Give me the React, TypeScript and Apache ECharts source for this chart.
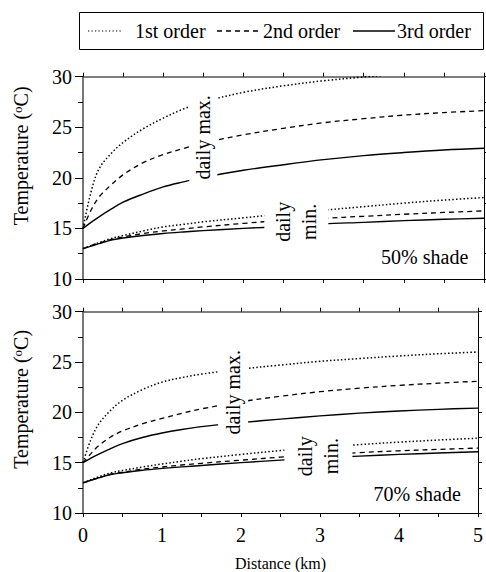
import React, { useEffect, useRef } from "react";
import * as echarts from "echarts";

// Distance (km) sample positions
const X = [0, 0.1, 0.2, 0.35, 0.5, 0.75, 1, 1.25, 1.5, 2, 2.5, 3, 3.5, 4, 4.5, 5];
const X_TICKS = [0, 1, 2, 3, 4, 5];
const Y_TICKS = [10, 15, 20, 25, 30];

// 50% shade — daily max
const max1_50 = [15, 18.6, 20.9, 22.4, 23.5, 24.85, 25.9, 26.8, 27.5, 28.45, 29.1, 29.6, 29.97, 30.3, 30.6, 30.9];
const max2_50 = [15, 16.8, 18.1, 19.3, 20.3, 21.5, 22.3, 22.9, 23.45, 24.25, 24.9, 25.45, 25.85, 26.2, 26.45, 26.65];
const max3_50 = [15, 15.6, 16.15, 16.9, 17.6, 18.4, 19.1, 19.6, 20.05, 20.75, 21.3, 21.8, 22.2, 22.5, 22.75, 22.92];
// 50% shade — daily min
const min1_50 = [13, 13.3, 13.6, 14.0, 14.3, 14.75, 15.15, 15.4, 15.65, 16.05, 16.45, 16.8, 17.15, 17.5, 17.8, 18.05];
const min2_50 = [13, 13.3, 13.55, 13.9, 14.15, 14.5, 14.75, 14.95, 15.15, 15.5, 15.8, 16.0, 16.2, 16.4, 16.58, 16.73];
const min3_50 = [13, 13.25, 13.5, 13.85, 14.05, 14.3, 14.5, 14.65, 14.78, 15.0, 15.2, 15.45, 15.6, 15.77, 15.9, 16.0];

// 70% shade — daily max
const max1_70 = [15, 17.3, 18.85, 20.2, 21.2, 22.25, 23.0, 23.45, 23.8, 24.3, 24.7, 25.07, 25.35, 25.6, 25.82, 26.0];
const max2_70 = [15, 15.9, 16.7, 17.55, 18.15, 18.85, 19.4, 19.9, 20.35, 21.05, 21.6, 22.05, 22.4, 22.68, 22.9, 23.09];
const max3_70 = [15, 15.45, 15.85, 16.4, 16.9, 17.5, 17.95, 18.3, 18.58, 18.98, 19.33, 19.65, 19.92, 20.13, 20.3, 20.42];
// 70% shade — daily min
const min1_70 = [13, 13.3, 13.6, 13.98, 14.22, 14.57, 14.87, 15.15, 15.4, 15.82, 16.2, 16.52, 16.8, 17.04, 17.25, 17.43];
const min2_70 = [13, 13.25, 13.5, 13.85, 14.05, 14.35, 14.57, 14.77, 14.94, 15.25, 15.55, 15.8, 16.0, 16.18, 16.32, 16.45];
const min3_70 = [13, 13.25, 13.5, 13.82, 14.0, 14.25, 14.43, 14.58, 14.72, 15.0, 15.25, 15.46, 15.65, 15.82, 15.96, 16.09];

const ORDERS = ["1st order", "2nd order", "3rd order"];
const PANELS = ["50% shade", "70% shade"];

const FONT = "Liberation Serif";
const FS = 20;
const LINE_TYPES: any[] = [[1.5, 2.2], [5, 4], "solid"];
const LINE_WIDTHS = [1.5, 1.3, 1.4];

function pairs(ys: number[]) {
  return X.map((x, i) => [x, ys[i]]);
}

function labelPoint(coord: number[], text: string, extra: any = {}) {
  return {
    coord,
    symbol: "circle",
    symbolSize: 1,
    itemStyle: { color: "rgba(0,0,0,0)" },
    label: {
      show: true,
      position: "inside",
      formatter: text,
      fontFamily: FONT,
      fontSize: FS,
      color: "#000",
      ...extra,
    },
  };
}

export default function App() {
  const ref = useRef<HTMLDivElement>(null);

  useEffect(() => {
    if (!ref.current) return;
    const chart = echarts.init(ref.current, undefined, { renderer: "svg" });

    const grids = [
      { left: 83, right: 2, top: 76.7, height: 202.3 },
      { left: 83, right: 2, top: 311.7, height: 202.6 },
    ];

    const xAxes: any[] = [];
    const yAxes: any[] = [];
    [0, 1].forEach((g) => {
      const common = {
        type: "value",
        gridIndex: g,
        min: X_TICKS[0],
        max: X_TICKS[X_TICKS.length - 1],
        interval: 0.5,
        splitLine: { show: false },
        axisTick: { show: true, length: 4, lineStyle: { color: "#000", width: 1 } },
      };
      xAxes.push({
        ...common,
        position: "bottom",
        axisLine: { show: true, onZero: false, lineStyle: { color: "#000", width: 1 } },
        axisLabel: {
          show: g === 1,
          margin: 12,
          fontFamily: FONT,
          fontSize: FS,
          color: "#000",
          formatter: (v: number) => (X_TICKS.includes(v) ? String(v) : ""),
        },
        name: g === 1 ? "Distance (km)" : "",
        nameLocation: "middle",
        nameGap: 42,
        nameTextStyle: { fontFamily: FONT, fontSize: 16, color: "#000" },
      });
      xAxes.push({
        ...common,
        position: "top",
        axisLine: { show: true, onZero: false, lineStyle: { color: "#555", width: 1.5 } },
        axisLabel: { show: false },
      });
      yAxes.push({
        type: "value",
        gridIndex: g,
        position: "left",
        min: Y_TICKS[0],
        max: Y_TICKS[Y_TICKS.length - 1],
        interval: 5,
        splitLine: { show: false },
        axisLine: { show: true, onZero: false, lineStyle: { color: "#777", width: 2 } },
        axisTick: { show: true, length: 8, lineStyle: { color: "#000", width: 1 } },
        minorTick: { show: true, splitNumber: 2, length: 5, lineStyle: { color: "#000", width: 1 } },
        axisLabel: { margin: 11, fontFamily: FONT, fontSize: FS, color: "#000" },
        name: "Temperature ({sup|o}C)",
        nameLocation: "middle",
        nameRotate: 90,
        nameGap: 52,
        nameTextStyle: {
          fontFamily: FONT,
          fontSize: FS,
          color: "#000",
          padding: [0, 0, 0, g === 0 ? 44 : 26],
          rich: { sup: { fontFamily: FONT, fontSize: 13, verticalAlign: "top", color: "#000" } },
        },
      });
      yAxes.push({
        type: "value",
        gridIndex: g,
        position: "right",
        min: 10,
        max: 30,
        interval: 2.5,
        splitLine: { show: false },
        axisLine: { show: true, onZero: false, lineStyle: { color: "#000", width: 1 } },
        axisTick: { show: true, length: 4, lineStyle: { color: "#000", width: 1 } },
        axisLabel: { show: false },
      });
    });

    const panelData = [
      { max: [max1_50, max2_50, max3_50], min: [min1_50, min2_50, min3_50] },
      { max: [max1_70, max2_70, max3_70], min: [min1_70, min2_70, min3_70] },
    ];

    const textBox = { backgroundColor: "#fff" };
    const markers = [
      [
        labelPoint([1.5, 24.0], "daily max.", { ...textBox, rotate: 90, padding: [4, 3, 4, 3] }),
        labelPoint([2.66, 15.65], "daily\nmin.", { ...textBox, rotate: 90, lineHeight: 26, padding: [6, 4, 6, 4] }),
        labelPoint([4.26, 12.2], PANELS[0]),
      ],
      [
        labelPoint([1.9, 22.0], "daily max.", { ...textBox, rotate: 90, padding: [6, 3, 4, 3] }),
        labelPoint([2.98, 15.65], "daily\nmin.", { ...textBox, rotate: 90, lineHeight: 26, padding: [8, 4, 8, 4] }),
        labelPoint([4.23, 11.9], PANELS[1]),
      ],
    ];

    const series: any[] = [];
    [0, 1].forEach((g) => {
      (["max", "min"] as const).forEach((kind) => {
        panelData[g][kind].forEach((ys, o) => {
          const s: any = {
            type: "line",
            name: ORDERS[o],
            xAxisIndex: g * 2,
            yAxisIndex: g * 2,
            data: pairs(ys),
            showSymbol: false,
            symbol: "none",
            smooth: 0.35,
            clip: true,
            lineStyle: { color: "#000", width: LINE_WIDTHS[o], type: LINE_TYPES[o] },
            z: 2,
          };
          if (kind === "min" && o === 2) {
            s.markPoint = { z: 10, silent: true, data: markers[g] };
          }
          series.push(s);
        });
      });
    });

    const ly = 31;
    const legendItems = [
      { x1: 88, x2: 123, tx: 135 },
      { x1: 217, x2: 262, tx: 263 },
      { x1: 353, x2: 395, tx: 397 },
    ];
    const graphic: any[] = [
      {
        type: "rect",
        shape: { x: 79.5, y: 12.5, width: 404, height: 37 },
        style: { fill: "#fff", stroke: "#000", lineWidth: 1 },
      },
    ];
    legendItems.forEach((it, o) => {
      graphic.push({
        type: "line",
        shape: { x1: it.x1, y1: ly, x2: it.x2, y2: ly },
        style: {
          stroke: "#000",
          lineWidth: o === 0 ? 1.2 : LINE_WIDTHS[o],
          lineDash: o === 0 ? [1.2, 2.3] : o === 1 ? [5, 4] : null,
        },
      });
      graphic.push({
        type: "text",
        x: it.tx,
        y: ly,
        style: {
          text: ORDERS[o],
          fontFamily: FONT,
          fontSize: FS,
          fill: "#000",
          verticalAlign: "middle",
          align: "left",
        },
      });
    });

    chart.setOption({
      animation: false,
      backgroundColor: "#fff",
      textStyle: { fontFamily: FONT },
      grid: grids,
      xAxis: xAxes,
      yAxis: yAxes,
      series,
      graphic,
    });

    return () => chart.dispose();
  }, []);

  return (
    <div
      ref={ref}
      style={{ position: "fixed", left: 0, top: 0, width: 486, height: 572, background: "#fff" }}
    />
  );
}
